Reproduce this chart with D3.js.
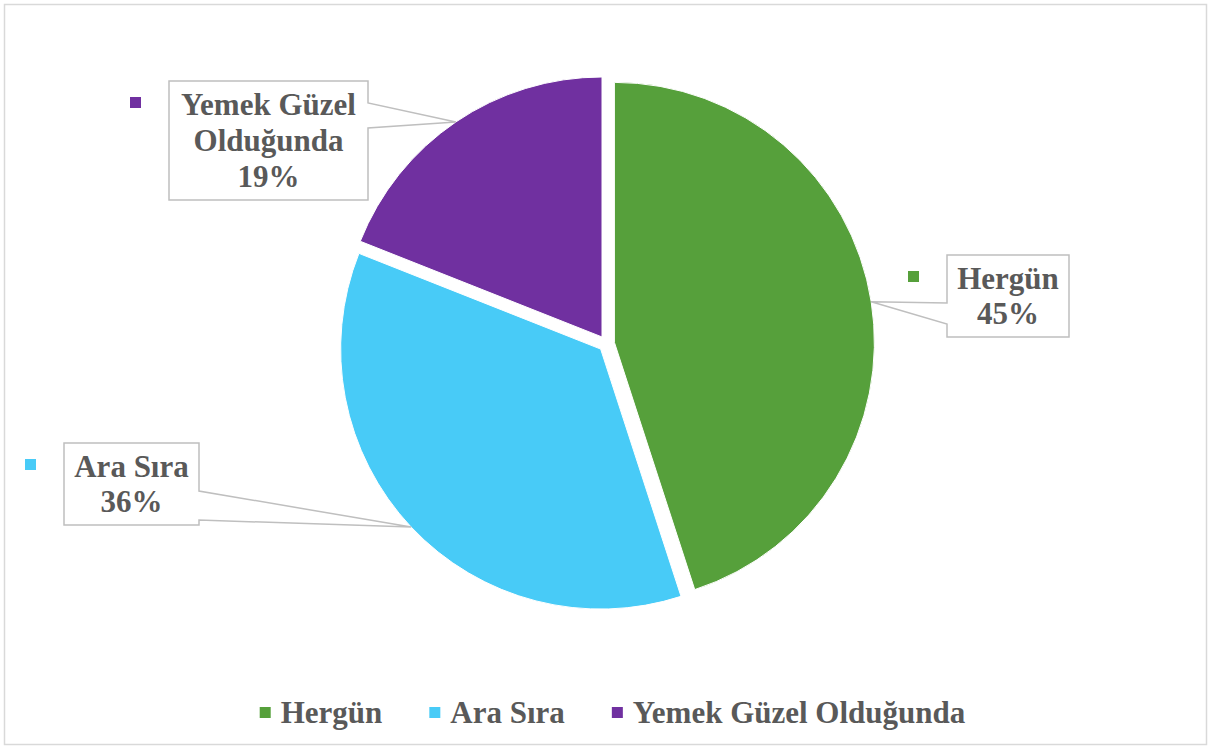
<!DOCTYPE html>
<html>
<head>
<meta charset="utf-8">
<script src="https://cdn.jsdelivr.net/npm/d3@7"></script>
<style>
  body { margin: 0; background: #fff; }
  text { font-family: "Liberation Serif", "Times New Roman", serif; font-weight: bold; fill: #595959; }
</style>
</head>
<body>
<svg id="chart" width="1211" height="749"></svg>
<script>
var categories = ["Hergün", "Ara Sıra", "Yemek Güzel Olduğunda"];
var values = [45, 36, 19];
var colors = ["#56A03B", "#48CBF7", "#7030A0"];

var svg = d3.select("#chart");
var fontSize = 31;

// outer frame
svg.append("rect")
    .attr("x", 4.5).attr("y", 4.5)
    .attr("width", 1202).attr("height", 740)
    .attr("fill", "none")
    .attr("stroke", "#d9d9d9")
    .attr("stroke-width", 1.5);

var cx = 606.5, cy = 343.6, r = 260, explode = 8;

var data = categories.map(function(c, i) { return { name: c, value: values[i], color: colors[i] }; });

var pie = d3.pie().sort(null).value(function(d) { return d.value; });
var arc = d3.arc().innerRadius(0).outerRadius(r);
var arcs = pie(data);

var offset = function(d, dist) {
    var a = (d.startAngle + d.endAngle) / 2;
    return [Math.sin(a) * dist, -Math.cos(a) * dist];
};

var g = svg.append("g").attr("transform", "translate(" + cx + "," + cy + ")");

g.selectAll("path")
    .data(arcs)
    .enter().append("path")
        .attr("d", arc)
        .attr("transform", function(d) { var o = offset(d, explode); return "translate(" + o[0] + "," + o[1] + ")"; })
        .attr("fill", function(d) { return d.data.color; })
        .attr("stroke", "#fff")
        .attr("stroke-width", 1);

// callout boxes (layout only)
var boxes = [
    { x: 947, y: 255, w: 122, h: 82, side: "left", b1: 303, b2: 324 },
    { x: 64, y: 443, w: 135, h: 82, side: "right", b1: 491, b2: 520 },
    { x: 169, y: 81, w: 199, h: 119, side: "right", b1: 103, b2: 128 }
];

var calloutPath = function(b, tip) {
    var x0 = b.x, y0 = b.y, x1 = b.x + b.w, y1 = b.y + b.h;
    var p = d3.path();
    if (b.side === "left") {
        p.moveTo(x0, y0); p.lineTo(x1, y0); p.lineTo(x1, y1); p.lineTo(x0, y1);
        p.lineTo(x0, b.b2); p.lineTo(tip[0], tip[1]); p.lineTo(x0, b.b1);
    } else {
        p.moveTo(x0, y0); p.lineTo(x1, y0); p.lineTo(x1, b.b1);
        p.lineTo(tip[0], tip[1]); p.lineTo(x1, b.b2); p.lineTo(x1, y1); p.lineTo(x0, y1);
    }
    p.closePath();
    return p.toString();
};

var labels = svg.append("g").attr("class", "labels");

arcs.forEach(function(d, i) {
    var b = boxes[i];
    var o = offset(d, explode + r);
    var tip = [cx + o[0], cy + o[1]];

    labels.append("path")
        .attr("d", calloutPath(b, tip))
        .attr("fill", "#fff")
        .attr("stroke", "#bfbfbf")
        .attr("stroke-width", 1.5);

    labels.append("rect")
        .attr("x", b.x - 39).attr("y", b.y + 16)
        .attr("width", 11).attr("height", 11)
        .attr("fill", d.data.color);

    // wrap the category name to fit the box
    var t = labels.append("text")
        .attr("text-anchor", "middle")
        .attr("font-size", fontSize);
    var words = d.data.name.split(" ");
    var lines = [], line = [];
    var probe = t.append("tspan");
    words.forEach(function(w) {
        var test = line.concat([w]).join(" ");
        probe.text(test);
        if (line.length && probe.node().getComputedTextLength() > b.w - 14) {
            lines.push(line.join(" "));
            line = [w];
        } else {
            line.push(w);
        }
    });
    lines.push(line.join(" "));
    probe.remove();
    lines.push(d.data.value + "%");

    var lh = lines.length > 2 ? 36 : 35;
    var midY = b.y + b.h / 2 + 10;
    var firstY = midY - (lines.length - 1) * lh / 2;
    lines.forEach(function(l, k) {
        t.append("tspan")
            .attr("x", b.x + b.w / 2)
            .attr("y", firstY + k * lh)
            .text(l);
    });
});

// legend
var legend = svg.append("g").attr("class", "legend");
var lx = 0;
data.forEach(function(d) {
    var item = legend.append("g").attr("transform", "translate(" + lx + ",0)");
    item.append("rect")
        .attr("x", 0).attr("y", -16)
        .attr("width", 11).attr("height", 11)
        .attr("fill", d.color);
    var tx = item.append("text")
        .attr("x", 21).attr("y", 0)
        .attr("font-size", fontSize)
        .text(d.name);
    lx += 21 + tx.node().getComputedTextLength() + 47;
});
var legendWidth = lx - 47;
legend.attr("transform", "translate(" + (612.5 - legendWidth / 2) + ",723)");
</script>
</body>
</html>
